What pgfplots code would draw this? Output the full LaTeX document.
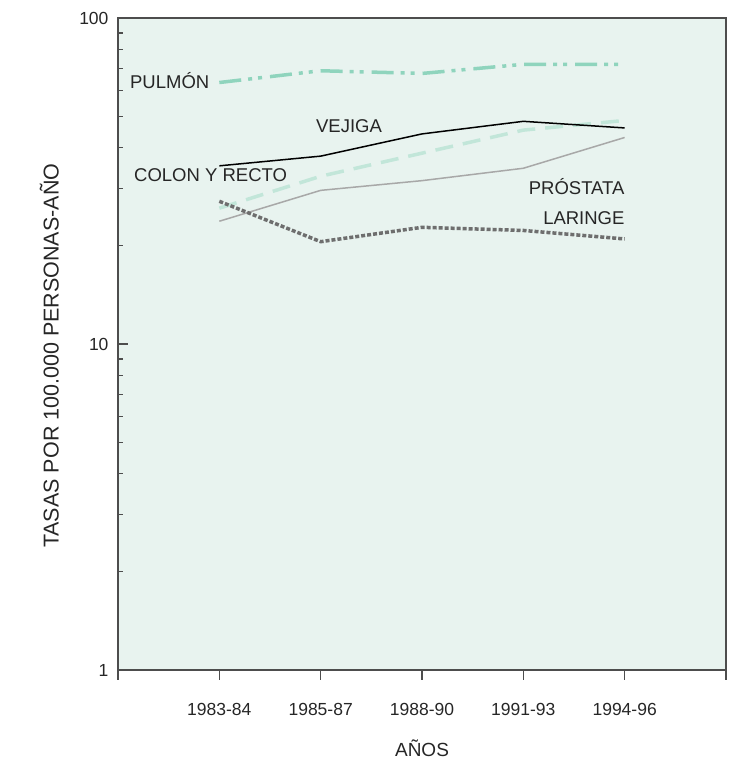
\documentclass[border=0pt]{standalone}
\usepackage{pgfplots}
\pgfplotsset{compat=1.18}
\usepackage{fontspec}
\setmainfont{Liberation Sans}
\definecolor{bgc}{HTML}{E8F3EF}
\definecolor{pulm}{HTML}{8FD4BD}
\definecolor{colon}{HTML}{C2E6D9}
\definecolor{prost}{HTML}{A8A8A8}
\definecolor{lar}{HTML}{6E6E6E}
\definecolor{axc}{HTML}{4D4D4D}
\begin{document}
\begin{tikzpicture}
\path[use as bounding box] (0,0) rectangle (730pt,765pt);
\begin{axis}[
  at={(118pt,95pt)}, anchor=south west,
  width=608pt, height=652pt, scale only axis,
  ymode=log, ymin=1, ymax=100,
  xmin=0, xmax=6,
  xtick={0,1,2,3,4,5,6},
  xticklabels={,1983-84,1985-87,1988-90,1991-93,1994-96,},
  ytick={1,10,100}, yticklabels={1,10,100},
  axis background/.style={fill=bgc},
  axis line style={axc, line width=1.2pt},
  every tick/.style={axc, line width=1.2pt},
  tick pos=left,
  xtick align=outside, ytick align=inside,
  major tick length=10pt, minor tick length=5pt,
  /pgf/number format/assume math mode=true,
  tick label style={font=\fontsize{17.5}{20}\selectfont, text=black!85},
  xticklabel style={yshift=-20pt},
  yticklabel style={xshift=-6pt},
  xlabel={AÑOS},
  ylabel={TASAS POR 100.000 PERSONAS-AÑO},
  xlabel style={font=\fontsize{19}{24}\selectfont, text=black!85, at={(rel axis cs:0.5,0)}, yshift=-66pt},
  ylabel style={font=\fontsize{21.5}{26}\selectfont, text=black!85, at={(rel axis cs:-0.113,0.482)}, anchor=center},
  clip=false,
]
% PULMON
\addplot[pulm, line width=3.5pt, dash pattern=on 22pt off 7pt on 4pt off 6pt on 4pt off 8pt] coordinates {(1,63.4) (2,68.9) (3,67.6) (4,72.1) (5,72.1)};
% COLON Y RECTO
\addplot[colon, line width=3.5pt, dash pattern=on 18pt off 10pt] coordinates {(1,26.1) (2,32.7) (3,38.5) (4,45.3) (5,48.5)};
% PROSTATA
\addplot[prost, line width=1.5pt] coordinates {(1,23.8) (2,29.6) (3,31.7) (4,34.6) (5,43.0)};
% VEJIGA
\addplot[black, line width=1.5pt] coordinates {(1,35.2) (2,37.7) (3,44.1) (4,48.2) (5,46.0)};
% LARINGE
\addplot[lar, line width=3.5pt, dash pattern=on 4pt off 2pt] coordinates {(1,27.4) (2,20.6) (3,22.8) (4,22.3) (5,21.0)};
\begin{scope}[every node/.style={font=\fontsize{18.5}{22}\selectfont, text=black!85, inner sep=0pt}]
\node[anchor=west] at (axis cs:0.118,64.1) {PULMÓN};
\node[anchor=center] at (axis cs:2.28,46.6) {VEJIGA};
\node[anchor=west] at (axis cs:0.158,33.0) {COLON Y RECTO};
\node[anchor=east] at (axis cs:5.0,30.5) {PRÓSTATA};
\node[anchor=east] at (axis cs:5.0,24.4) {LARINGE};
\end{scope}
\end{axis}
\end{tikzpicture}
\end{document}
